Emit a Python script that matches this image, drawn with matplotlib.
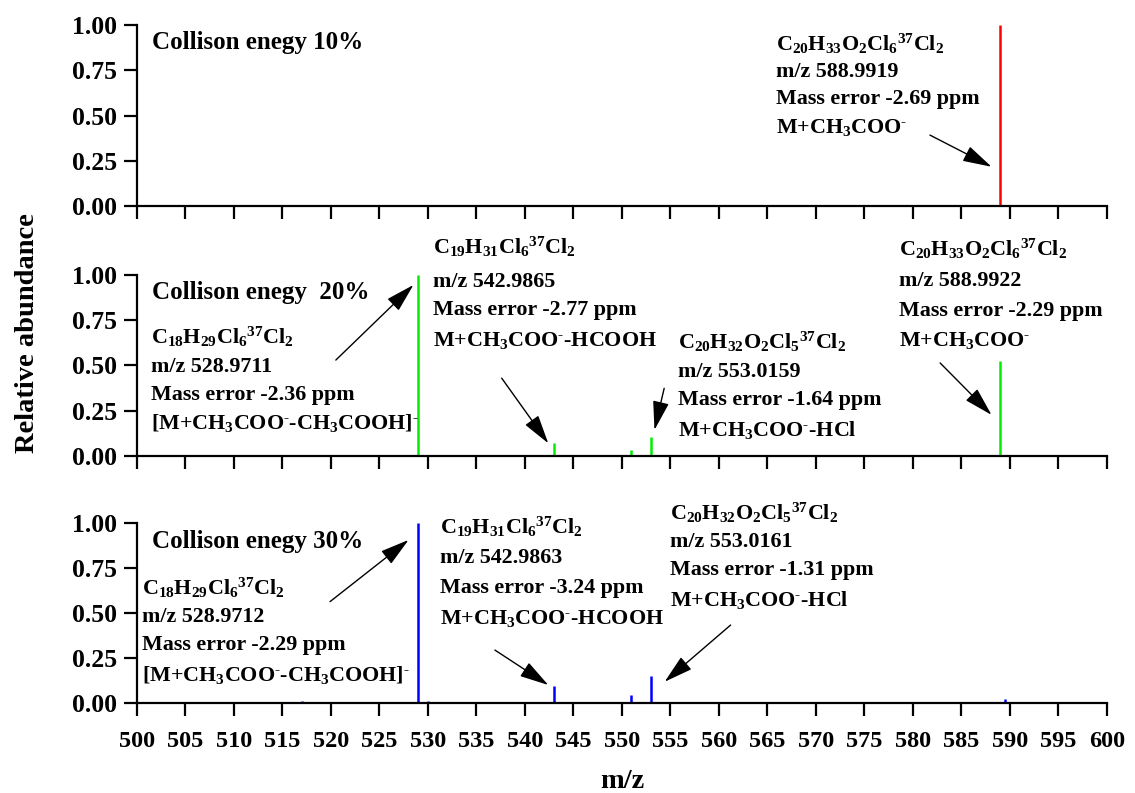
import matplotlib
matplotlib.use("Agg")
import matplotlib.pyplot as plt

plt.rcParams['font.family'] = ['Liberation Serif', 'DejaVu Serif']
plt.rcParams['font.weight'] = 'bold'
plt.rcParams['mathtext.fontset'] = 'custom'
plt.rcParams['mathtext.rm'] = 'Liberation Serif:bold'
plt.rcParams['mathtext.bf'] = 'Liberation Serif:bold'
plt.rcParams['mathtext.it'] = 'Liberation Serif:bold:italic'

# peaks (m/z, relative abundance)
mz_10 = [588.99]
ab_10 = [1.0]

mz_20 = [528.97, 542.99, 550.98, 553.02, 588.99]
ab_20 = [1.0, 0.07, 0.033, 0.105, 0.525]

mz_30 = [507.1, 515.1, 517.0, 528.97, 529.97, 542.99, 550.98, 553.02, 589.5]
ab_30 = [0.005, 0.005, 0.01, 1.0, 0.012, 0.096, 0.046, 0.148, 0.022]

panel_titles = ["Collison enegy 10%", "Collison enegy  20%", "Collison enegy 30%"]
colors = ['#ff0000', '#00ee00', '#0000ff']
x_ticks = list(range(500, 601, 5))
y_ticks = [0.0, 0.25, 0.5, 0.75, 1.0]

f_588 = r'$\mathrm{C_{20}H_{33}O_2Cl_6{}^{37}Cl_2}$'
f_528 = r'$\mathrm{C_{18}H_{29}Cl_6{}^{37}Cl_2}$'
f_542 = r'$\mathrm{C_{19}H_{31}Cl_6{}^{37}Cl_2}$'
f_553 = r'$\mathrm{C_{20}H_{32}O_2Cl_5{}^{37}Cl_2}$'
neg = r'$^{\text{-}}$'
ion_acetate = r'M+CH$_3$COO' + neg
ion_loss_acid = r'[M+CH$_3$COO' + neg + r'-CH$_3$COOH]' + neg
ion_loss_formic = r'M+CH$_3$COO' + neg + '-HCOOH'
ion_loss_hcl = r'M+CH$_3$COO' + neg + '-HCl'

# (lines, left x, line y positions, arrow start, arrow tip)
notes = [
    [
        ([f_588, 'm/z 588.9919', 'Mass error -2.69 ppm', ion_acetate],
         565.9, [0.895, 0.74, 0.59, 0.436], (581.75, 0.392), (588.1, 0.217)),
    ],
    [
        ([f_528, 'm/z 528.9711', 'Mass error -2.36 ppm', ion_loss_acid],
         501.4, [0.66, 0.493, 0.337, 0.18], (520.5, 0.53), (528.5, 0.945)),
        ([f_542, 'm/z 542.9865', 'Mass error -2.77 ppm', ion_loss_formic],
         530.5, [1.156, 0.963, 0.807, 0.64], (537.6, 0.43), (542.4, 0.07)),
        ([f_553, 'm/z 553.0159', 'Mass error -1.64 ppm', ion_loss_hcl],
         555.8, [0.632, 0.466, 0.31, 0.144], (554.35, 0.374), (553.35, 0.144)),
        ([f_588, 'm/z 588.9922', 'Mass error -2.29 ppm', ion_acetate],
         578.6, [1.144, 0.967, 0.801, 0.64], (582.8, 0.514), (588.1, 0.227)),
    ],
    [
        ([f_528, 'm/z 528.9712', 'Mass error -2.29 ppm', ion_loss_acid],
         500.5, [0.637, 0.48, 0.322, 0.156], (519.9, 0.563), (528.0, 0.906)),
        ([f_542, 'm/z 542.9863', 'Mass error -3.24 ppm', ion_loss_formic],
         531.2, [0.98, 0.804, 0.637, 0.47], (536.9, 0.294), (542.4, 0.10)),
        ([f_553, 'm/z 553.0161', 'Mass error -1.31 ppm', ion_loss_hcl],
         555.0, [1.054, 0.896, 0.739, 0.572], (561.2, 0.433), (554.4, 0.118)),
    ],
]

fig = plt.figure(figsize=(11.35, 7.93), dpi=100)
rects = [
    [0.1207, 0.7402, 0.8546, 0.2282],
    [0.1207, 0.4250, 0.8546, 0.2282],
    [0.1207, 0.1135, 0.8546, 0.2270],
]
spectra = [(mz_10, ab_10), (mz_20, ab_20), (mz_30, ab_30)]

for i, rect in enumerate(rects):
    ax = fig.add_axes(rect)
    mz, ab = spectra[i]
    ax.vlines(mz, 0, ab, color=colors[i], lw=1.8)
    ax.set_xlim(500, 600)
    ax.set_ylim(0, 1.0)
    ax.set_xticks(x_ticks)
    ax.set_yticks(y_ticks)
    ax.set_yticklabels(['%.2f' % v for v in y_ticks])
    ax.spines['top'].set_visible(False)
    ax.spines['right'].set_visible(False)
    for s in ['left', 'bottom']:
        ax.spines[s].set_linewidth(1.6)
    ax.tick_params(direction='out', length=9.5, width=1.6)
    ax.tick_params(axis='y', pad=5, labelsize=18.5)
    ax.tick_params(axis='x', pad=11, labelsize=17.5)
    if i < 2:
        ax.tick_params(axis='x', labelbottom=False)
    else:
        ax.set_xlabel('m/z', fontsize=20.5, fontweight='bold', labelpad=12)

    ax.text(501.5, 0.905 if i < 2 else 0.896, panel_titles[i], fontsize=18,
            fontweight='bold', va='center', ha='left')

    for lines, x0, ys, start, tip in notes[i]:
        for txt, y in zip(lines, ys):
            ax.text(x0, y, txt, fontsize=15.8, fontweight='bold', va='center',
                    ha='left', clip_on=False)
        ax.annotate('', xy=tip, xytext=start, annotation_clip=False,
                    arrowprops=dict(arrowstyle='-|>,head_length=1.0,head_width=0.28',
                                    color='black', lw=1.0, mutation_scale=18,
                                    shrinkA=0, shrinkB=0))

fig.text(0.024, 0.58, 'Relative abundance', rotation=90, fontsize=20.5,
         fontweight='bold', va='center', ha='center')

fig.savefig('out.png', dpi=100)
